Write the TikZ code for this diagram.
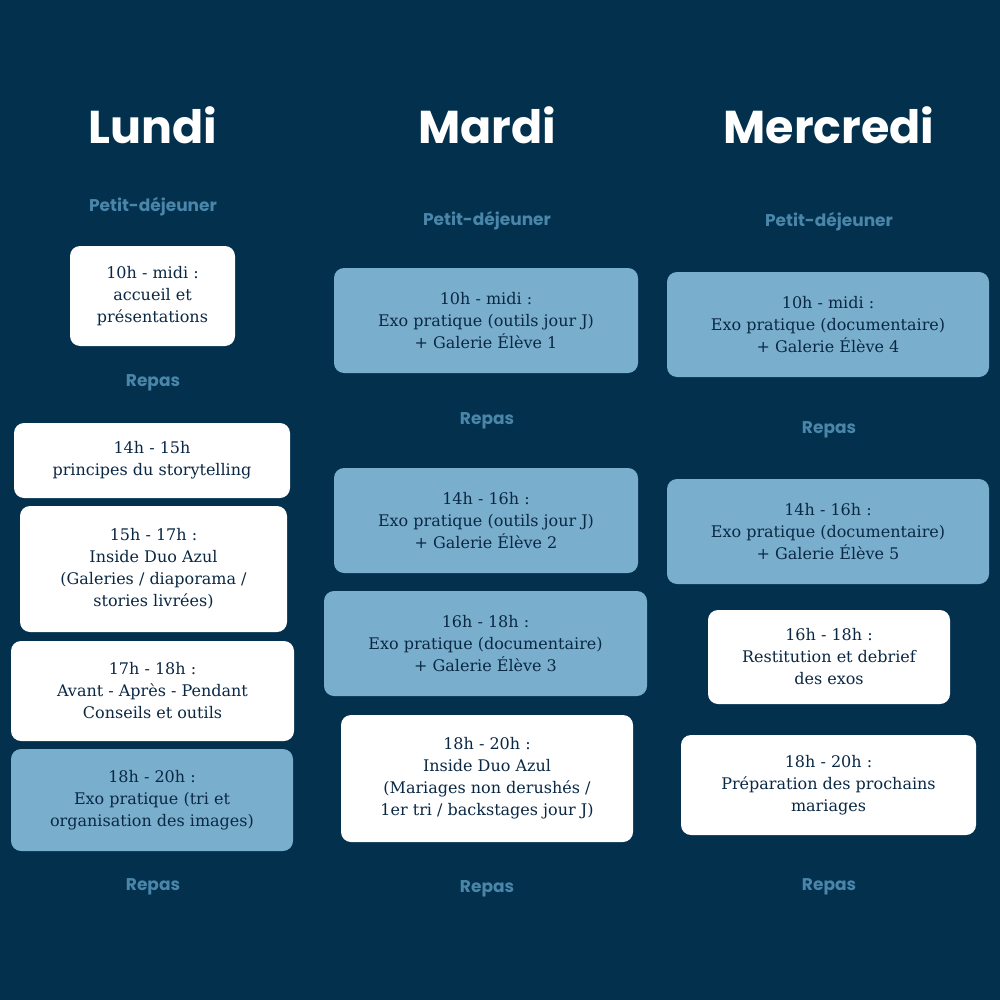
\documentclass[tikz,border=0pt]{standalone}
\usepackage{fontspec}
\setmainfont{DejaVu Serif}
\newfontfamily\headfont{Poppins}
\definecolor{bg}{RGB}{2,48,77}
\definecolor{lblue}{RGB}{122,174,205}
\definecolor{ink}{RGB}{10,40,68}
\definecolor{lab}{RGB}{74,134,170}
\begin{document}
\begin{tikzpicture}[x=1pt,y=-1pt,
 boxw/.style={fill=white,rounded corners=10pt,align=center,text=ink,font=\fontsize{16}{22}\selectfont,inner sep=0pt},
 boxb/.style={boxw,fill=lblue},
 day/.style={text=white,font=\headfont\fontsize{46}{50}\selectfont\bfseries},
 meal/.style={text=lab,font=\headfont\fontsize{17}{20}\selectfont\bfseries}]
\fill[bg] (0,0) rectangle (1000,1000);
\useasboundingbox (0,0) rectangle (1000,1000);
\newcommand\bx[7]{\node[#1,minimum width={#4-#3},minimum height={#6-#5}] (#2) at ({(#3+#4)/2},{(#5+#6)/2}) {#7};}
% Lundi
\node[day] (t1) at (153,125) {Lundi};
\node[meal] (m1) at (153,207) {Petit-déjeuner};
\bx{boxw}{l1}{70}{235}{246}{346}{10h - midi :\\accueil et\\présentations}
\node[meal] (m2) at (153,383) {Repas};
\bx{boxw}{l2}{14}{290}{423}{498}{14h - 15h\\principes du storytelling}
\bx{boxw}{l3}{20}{287}{506}{632}{15h - 17h :\\Inside Duo Azul\\(Galeries / diaporama /\\stories livrées)}
\bx{boxw}{l4}{11}{294}{641}{741}{17h - 18h :\\Avant - Après - Pendant\\Conseils et outils}
\bx{boxb}{l5}{11}{293}{749}{851}{18h - 20h :\\Exo pratique (tri et\\organisation des images)}
\node[meal] (m3) at (153,887) {Repas};
% Mardi
\node[day] (t2) at (487,125) {Mardi};
\node[meal] (m4) at (487,221) {Petit-déjeuner};
\bx{boxb}{d1}{334}{638}{268}{373}{10h - midi :\\Exo pratique (outils jour J)\\+ Galerie Élève 1}
\node[meal] (m5) at (487,421) {Repas};
\bx{boxb}{d2}{334}{638}{468}{573}{14h - 16h :\\Exo pratique (outils jour J)\\+ Galerie Élève 2}
\bx{boxb}{d3}{324}{647}{591}{696}{16h - 18h :\\Exo pratique (documentaire)\\+ Galerie Élève 3}
\bx{boxw}{d4}{341}{633}{715}{842}{18h - 20h :\\Inside Duo Azul\\(Mariages non derushés /\\1er tri / backstages jour J)}
\node[meal] (m6) at (487,889) {Repas};
% Mercredi
\node[day] (t3) at (829,125) {Mercredi};
\node[meal] (m7) at (829,222) {Petit-déjeuner};
\bx{boxb}{w1}{667}{989}{272}{377}{10h - midi :\\Exo pratique (documentaire)\\+ Galerie Élève 4}
\node[meal] (m8) at (829,430) {Repas};
\bx{boxb}{w2}{667}{989}{479}{584}{14h - 16h :\\Exo pratique (documentaire)\\+ Galerie Élève 5}
\bx{boxw}{w3}{708}{950}{610}{704}{16h - 18h :\\Restitution et debrief\\des exos}
\bx{boxw}{w4}{681}{976}{735}{835}{18h - 20h :\\Préparation des prochains\\mariages}
\node[meal] (m9) at (829,887) {Repas};
\end{tikzpicture}
\end{document}
